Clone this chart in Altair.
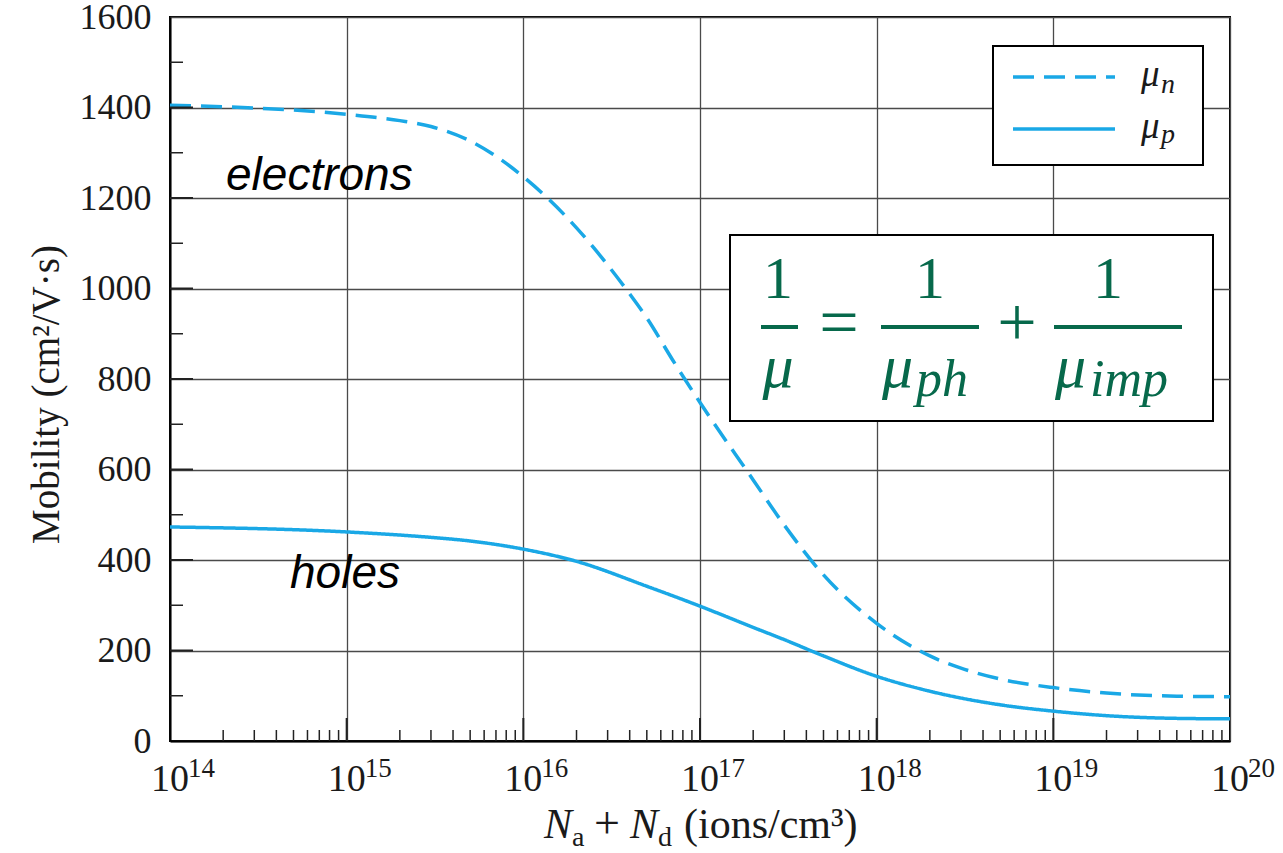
import altair as alt
import pandas as pd

# ---------------- data ----------------
conc_n = [1e14, 3e14, 1e15, 2e15, 3e15, 5e15, 1e16, 2e16, 3e16, 4e16, 5e16, 7e16,
          1e17, 2e17, 3e17, 5e17, 1e18, 2e18, 3e18, 5e18, 1e19, 2e19, 5e19, 1e20]
mu_n = [1405, 1399, 1385, 1371, 1358, 1326, 1247, 1134, 1052, 988, 935, 842,
        748, 577, 477, 367, 260, 188, 161, 137, 118, 106, 99, 98]
conc_p = [1e14, 1e15, 3e15, 5e15, 1e16, 2e16, 5e16, 1e17, 2e17, 3e17, 5e17, 1e18,
          2e18, 5e18, 1e19, 2e19, 5e19, 1e20]
mu_p = [473, 462, 450, 442, 424, 397, 342, 298, 251, 224, 188, 143,
        110, 80, 66, 56, 50, 49]
decade_exps = [14, 15, 16, 17, 18, 19, 20]
y_major = [0, 200, 400, 600, 800, 1000, 1200, 1400, 1600]
y_minor = [100, 300, 500, 700, 900, 1100, 1300, 1500]
minor_mult = [2, 3, 4, 5, 6, 7, 8, 9]

BLUE = "#1AA8E6"
GREEN = "#07694B"
SERIF = "Liberation Serif"
SANS = "Liberation Sans"
W, H = 1060, 724
OX, OY = 170, 17  # plot origin in the page

df = pd.DataFrame({
    "conc": conc_n + conc_p,
    "mu": mu_n + mu_p,
    "series": ["mu_n"] * len(conc_n) + ["mu_p"] * len(conc_p),
})
df_dec = pd.DataFrame({"conc": [10.0 ** k for k in decade_exps],
                       "exp": [str(k) for k in decade_exps]})
df_xminor = pd.DataFrame({"conc": [m * 10.0 ** k for k in decade_exps[:-1] for m in minor_mult]})
df_xmajor = pd.DataFrame({"conc": [10.0 ** k for k in decade_exps[1:-1]]})
df_ymajor = pd.DataFrame({"mu": y_major[1:-1]})
df_yminor = pd.DataFrame({"mu": y_minor})

xscale = alt.Scale(type="log", domain=[1e14, 1e20])
yscale = alt.Scale(domain=[0, 1600], nice=False, zero=False)

xaxis = alt.Axis(values=[10.0 ** k for k in decade_exps], grid=True, labels=False,
                 ticks=False, title=None, gridColor="#4a4a4a", gridWidth=1.3,
                 domainColor="black", domainWidth=2)
yaxis = alt.Axis(values=y_major, format="d", grid=True, ticks=False, tickSize=0,
                 gridColor="#4a4a4a", gridWidth=1.3, domainColor="black", domainWidth=2,
                 labelFont=SERIF, labelFontSize=36, labelColor="#1a1a1a", labelPadding=19,
                 title="Mobility (cm²/V·s)", titleFont=SERIF, titleFontSize=39,
                 titleFontWeight="normal", titleColor="#1a1a1a", titleX=-112,
                 titleY=377, titleAngle=270, titleAlign="center",
                 titleBaseline="alphabetic")

X = alt.X("conc:Q", scale=xscale, axis=xaxis)
Y = alt.Y("mu:Q", scale=yscale, axis=yaxis)

lines = alt.Chart(df).mark_line(strokeWidth=3.5, color=BLUE, interpolate="monotone").encode(
    x=X, y=Y,
    detail="series:N",
    strokeDash=alt.StrokeDash("series:N", scale=alt.Scale(domain=["mu_n", "mu_p"],
                                                          range=[[21, 10], [1, 0]]), legend=None),
)

tick_x_minor = alt.Chart(df_xminor).mark_rule(color="#222", strokeWidth=1.5).encode(
    x=X, y=alt.value(H - 11), y2=alt.value(H))
tick_x_major = alt.Chart(df_xmajor).mark_rule(color="#222", strokeWidth=2).encode(
    x=X, y=alt.value(H - 23), y2=alt.value(H))
tick_y_minor = alt.Chart(df_yminor).mark_rule(color="#222", strokeWidth=1.5).encode(
    y=Y, x=alt.value(0), x2=alt.value(13))
tick_y_major = alt.Chart(df_ymajor).mark_rule(color="#222", strokeWidth=2).encode(
    y=Y, x=alt.value(0), x2=alt.value(23))

xlab_base = alt.Chart(df_dec).mark_text(text="10", font=SERIF, fontSize=38, color="#1a1a1a",
                                        align="center", baseline="alphabetic").encode(
    x=X, y=alt.value(791 - OY))
xlab_exp = alt.Chart(df_dec).mark_text(font=SERIF, fontSize=27, color="#1a1a1a", dx=18,
                                       align="left", baseline="alphabetic").encode(
    x=X, y=alt.value(777 - OY), text="exp:N")


def ptext(txt, px, py, size, style="normal", font=SERIF, color="#1a1a1a", align="left"):
    return alt.Chart(alt.Data(values=[{}])).mark_text(
        text=txt, font=font, fontSize=size, fontStyle=style, color=color,
        align=align, baseline="alphabetic").encode(x=alt.value(px - OX), y=alt.value(py - OY))


def prule(x1, x2, y, color, width, dash=None):
    kw = dict(color=color, strokeWidth=width)
    if dash:
        kw["strokeDash"] = dash
    return alt.Chart(alt.Data(values=[{}])).mark_rule(**kw).encode(
        x=alt.value(x1 - OX), x2=alt.value(x2 - OX), y=alt.value(y - OY))


def pbox(x1, x2, y1, y2):
    return alt.Chart(alt.Data(values=[{}])).mark_rect(
        fill="white", stroke="black", strokeWidth=2).encode(
        x=alt.value(x1 - OX), x2=alt.value(x2 - OX), y=alt.value(y1 - OY), y2=alt.value(y2 - OY))


# x-axis title built from pieces (subscripts)
xtitle = [
    ptext("N", 544, 838, 42, "italic"),
    ptext("a", 572, 846, 28),
    ptext("+", 607, 838, 46, align="center"),
    ptext("N", 630, 838, 42, "italic"),
    ptext("d", 658, 846, 28),
    ptext("(ions/cm³)", 684, 838, 42),
]

# series labels
labels = [
    ptext("electrons", 226, 190, 46, "italic", font=SANS, color="black"),
    ptext("holes", 290, 588, 46, "italic", font=SANS, color="black"),
]

# legend
legend = [
    pbox(993, 1203, 46, 165),
    prule(1013, 1115, 77, BLUE, 3.5, [21, 10]),
    prule(1013, 1115, 129, BLUE, 3.5),
    ptext("μ", 1141, 86, 37, "italic"),
    ptext("n", 1161, 93, 28, "italic"),
    ptext("μ", 1141, 138, 37, "italic"),
    ptext("p", 1161, 143, 28, "italic"),
]

# formula box
formula = [
    pbox(730, 1213, 235, 421),
    ptext("1", 778, 298, 60, color=GREEN, align="center"),
    prule(761, 798, 327, GREEN, 4),
    ptext("μ", 778, 387, 62, "italic", color=GREEN, align="center"),
    ptext("=", 839, 346, 70, color=GREEN, align="center"),
    ptext("1", 930, 298, 60, color=GREEN, align="center"),
    prule(881, 979, 327, GREEN, 4),
    ptext("μ", 882, 387, 62, "italic", color=GREEN),
    ptext("ph", 916, 396, 52, "italic", color=GREEN),
    ptext("+", 1017, 346, 70, color=GREEN, align="center"),
    ptext("1", 1108, 298, 60, color=GREEN, align="center"),
    prule(1054, 1182, 327, GREEN, 4),
    ptext("μ", 1055, 387, 62, "italic", color=GREEN),
    ptext("imp", 1090, 396, 52, "italic", color=GREEN),
]

chart = alt.layer(
    lines, tick_x_minor, tick_x_major, tick_y_minor, tick_y_major,
    xlab_base, xlab_exp, *xtitle, *labels, *legend, *formula,
).properties(
    width=W, height=H,
    autosize=alt.AutoSizeParams(type="none"),
    padding={"left": OX, "top": OY, "right": 1283 - OX - W, "bottom": 853 - OY - H},
    background="white",
).configure_view(stroke="black", strokeWidth=2)

chart.save("out.html", embed_options={"renderer": "svg", "actions": False})
